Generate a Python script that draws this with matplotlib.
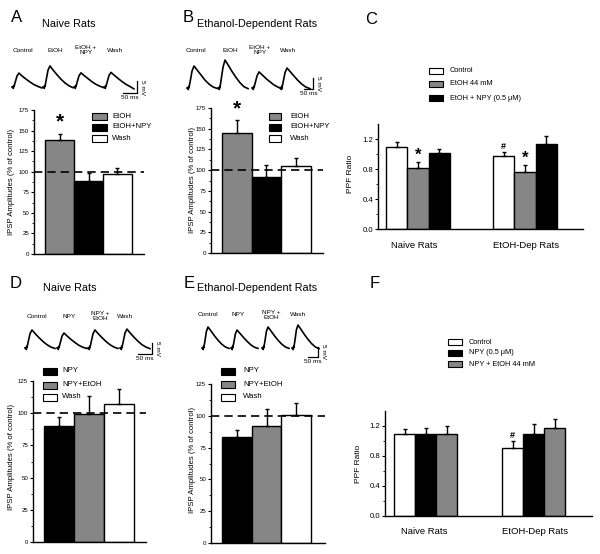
import numpy as np
import matplotlib
matplotlib.use('Agg')
import matplotlib.pyplot as plt
from matplotlib.patches import Rectangle

plt.rcParams['font.family'] = ['Liberation Sans', 'DejaVu Sans']

W, H = 600, 554
GRAY = '#868686'

# ---- IPSP amplitudes (% of control): mean and upper SEM
a_labels = ['EtOH', 'EtOH+NPY', 'Wash']
a_means = [138, 89, 97]
a_sem = [8, 10, 8]
b_means = [145, 92, 105]
b_sem = [15, 14, 10]

d_labels = ['NPY', 'NPY+EtOH', 'Wash']
d_means = [90, 99, 107]
d_sem = [7, 14, 12]
e_means = [83, 92, 101]
e_sem = [6, 13, 9]

# ---- PPF ratios (Naive, EtOH-Dep)
groups = ['Naive Rats', 'EtOH-Dep Rats']
c_labels = ['Control', 'EtOH 44 mM', 'EtOH + NPY (0.5 \u03bcM)']
c_control = [1.10, 0.97]
c_control_sem = [0.06, 0.06]
c_etoh = [0.82, 0.76]
c_etoh_sem = [0.07, 0.09]
c_npy = [1.02, 1.13]
c_npy_sem = [0.05, 0.11]

f_labels = ['Control', 'NPY (0.5 \u03bcM)', 'NPY + EtOH 44 mM']
f_control = [1.09, 0.91]
f_control_sem = [0.07, 0.09]
f_npy = [1.09, 1.10]
f_npy_sem = [0.09, 0.13]
f_npy_etoh = [1.09, 1.17]
f_npy_etoh_sem = [0.11, 0.12]

# ---- example IPSP traces (time in ms, voltage in mV from baseline)
trace_names_a = ['Control', 'EtOH', 'EtOH +\nNPY', 'Wash']
trace_names_d = ['Control', 'NPY', 'NPY +\nEtOH', 'Wash']

t_a = [0, 3.6, 4.6, 5.7, 7.1, 10.7, 17.9, 25, 35.7, 50, 64, 78.5, 93, 107]
v_a = [
    [0, 0, -0.6, 0.6, 0.2, 1.7, 4.6, 5.8, 4.6, 3.3, 2.1, 1.0, 0.2, -0.4],
    [0, 0, -0.6, 0.6, 0.2, 2.5, 7.0, 8.8, 7.1, 5.1, 3.3, 1.7, 0.5, -0.3],
    [0, 0, -0.6, 0.6, 0.2, 1.8, 4.7, 5.9, 4.8, 3.5, 2.2, 1.1, 0.3, -0.3],
    [0, 0, -0.6, 0.6, 0.2, 1.8, 4.8, 6.1, 5.0, 3.6, 2.3, 1.1, 0.2, -0.8],
]
t_b = [0, 5.6, 7.2, 8.9, 11, 17, 28, 39, 56, 78, 100, 122, 144, 167]
v_b = [
    [0, 0, -0.7, 0.7, 0.2, 2.7, 7.7, 10.0, 8.2, 5.9, 3.6, 1.8, 0.5, -0.2],
    [0, 0, -0.7, 0.7, 0.2, 3.5, 9.5, 12.7, 10.5, 7.5, 4.8, 2.4, 0.6, -0.3],
    [0, 0, -0.7, 0.7, 0.2, 2.0, 5.5, 7.3, 6.0, 4.3, 2.8, 1.4, 0.4, -0.2],
    [0, 0, -0.7, 0.7, 0.2, 2.5, 7.0, 9.1, 7.5, 5.4, 3.4, 1.7, 0.4, -0.3],
]
t_d = [0, 3.6, 4.6, 5.7, 7.1, 10.7, 17.9, 25, 35.7, 50, 64, 78.5, 93, 107]
v_d = [
    [0, 0, -0.7, 0.7, 0.2, 2.3, 6.5, 8.2, 6.6, 4.7, 3.0, 1.5, 0.4, -0.2],
    [0, 0, -0.7, 0.7, 0.2, 1.9, 5.4, 6.8, 5.5, 3.9, 2.5, 1.2, 0.3, -0.2],
    [0, 0, -0.7, 0.7, 0.2, 2.3, 6.5, 8.2, 6.6, 4.7, 3.0, 1.5, 0.4, -0.2],
    [0, 0, -0.7, 0.7, 0.2, 2.4, 6.8, 8.6, 6.9, 4.9, 3.1, 1.5, 0.4, -0.3],
]
t_e = [0, 4.5, 6, 7.5, 9, 14, 22, 30, 45, 63, 81, 99, 117, 135]
v_e = [
    [0, 0, -0.8, 0.8, 0.2, 3.0, 8.3, 10.5, 8.5, 6.0, 3.8, 1.9, 0.5, -0.2],
    [0, 0, -0.8, 0.8, 0.2, 2.6, 7.1, 9.0, 7.3, 5.2, 3.3, 1.6, 0.4, -0.2],
    [0, 0, -0.8, 0.8, 0.2, 3.0, 8.3, 10.5, 8.5, 6.0, 3.8, 1.9, 0.5, -0.2],
    [0, 0, -0.8, 0.8, 0.2, 3.3, 9.1, 11.5, 9.3, 6.6, 4.2, 2.1, 0.5, -0.3],
]

fig = plt.figure(figsize=(W / 100, H / 100), dpi=100)
fig.patch.set_facecolor('white')


def px_axes(left, top, right, bottom):
    return fig.add_axes([left / W, 1 - bottom / H, (right - left) / W, (bottom - top) / H])


def ftext(x, y, s, **kw):
    fig.text(x / W, 1 - y / H, s, **kw)


def legend_px(x, ys, w, h, colors, labels, tx, fs):
    for y, c, lab in zip(ys, colors, labels):
        fig.add_artist(Rectangle((x / W, 1 - (y + h / 2) / H), w / W, h / H, facecolor=c,
                                 edgecolor='k', lw=0.8, transform=fig.transFigure))
        ftext(tx, y, lab, ha='left', va='center', fontsize=fs)


def style_axes(ax, fs):
    for s in ['top', 'right']:
        ax.spines[s].set_visible(False)
    ax.spines['left'].set_linewidth(1)
    ax.spines['bottom'].set_linewidth(1)
    ax.tick_params(axis='x', bottom=False, labelbottom=False)
    ax.tick_params(axis='y', which='major', direction='out', length=2.5, width=0.8, labelsize=fs, pad=1)
    ax.tick_params(axis='y', which='minor', direction='out', length=1.5, width=0.6)


def trace_panel(box, px_ms, px_mv, base_px, starts_px, t, traces, corner):
    left, top, right, bottom = box
    ax = px_axes(*box)
    ax.set_xlim(0, (right - left) / px_ms)
    ax.set_ylim(-(bottom - base_px) / px_mv, (base_px - top) / px_mv)
    ax.axis('off')
    for sx, v in zip(starts_px, traces):
        ax.plot((sx - left) / px_ms + np.array(t), v, color='k', lw=1.2, solid_joinstyle='round')
    cx = (corner[0] - left) / px_ms
    cy = (base_px - corner[1]) / px_mv
    ax.plot([cx - 50, cx, cx], [cy, cy, cy + 5], color='k', lw=0.9)
    ax.annotate('50 ms', (cx - 25, cy), xytext=(0, -1.5), textcoords='offset points',
                ha='center', va='top', fontsize=4.6)
    ax.annotate('5 mV', (cx, cy + 2.5), xytext=(2, 0), textcoords='offset points',
                ha='left', va='center', rotation=270, fontsize=4.6)


def amp_panel(box, bar_px, first_px, means, sem, colors, ymax, star):
    left, top, right, bottom = box
    ax = px_axes(*box)
    x = (first_px - left) / bar_px + 0.5 + np.arange(len(means))
    ax.bar(x, means, width=1.0, color=colors, edgecolor='k', linewidth=1, zorder=2)
    ax.errorbar(x, means, yerr=[np.zeros(len(sem)), sem], fmt='none', ecolor='k',
                elinewidth=1, capsize=1.6, capthick=1, zorder=3)
    ax.axhline(100, color='k', lw=1.2, ls=(0, (5, 3)), zorder=4)
    ax.set_xlim(0, (right - left) / bar_px)
    ax.set_ylim(0, ymax)
    ax.set_yticks(np.arange(0, ymax + 1, 25))
    ax.set_yticks(np.arange(12.5, ymax, 25), minor=True)
    style_axes(ax, 4.4)
    if star:
        ax.annotate('*', (x[0], means[0] + sem[0]), xytext=(0, 1.5), textcoords='offset points',
                    ha='center', va='bottom', fontsize=15, fontweight='bold')
    return ax


def ppf_panel(box, bar_px, starts_px, series, sems, colors):
    left, top, right, bottom = box
    ax = px_axes(*box)
    pos = []
    for k in range(len(series)):
        xs = [(s - left) / bar_px + 0.5 + k for s in starts_px]
        pos.append(xs)
        ax.bar(xs, series[k], width=1.0, color=colors[k], edgecolor='k', linewidth=1, zorder=2)
        ax.errorbar(xs, series[k], yerr=[np.zeros(2), sems[k]], fmt='none', ecolor='k',
                    elinewidth=1, capsize=1.6, capthick=1, zorder=3)
    ax.set_xlim(0, (right - left) / bar_px)
    ax.set_ylim(0, 1.4)
    ax.set_yticks([0.0, 0.4, 0.8, 1.2])
    ax.set_yticklabels(['0.0', '0.4', '0.8', '1.2'])
    ax.set_yticks([0.2, 0.6, 1.0], minor=True)
    style_axes(ax, 5.6)
    return ax, pos


# ---------------- Panel A ----------------
ftext(17, 17, 'A', ha='center', va='center', fontsize=12)
ftext(69, 24, 'Naive Rats', ha='center', va='center', fontsize=7.8)
for xc, name in zip([23, 55, 86, 115], trace_names_a):
    ftext(xc, 50, name, ha='center', va='center', fontsize=4.6, linespacing=0.9)
trace_panel((10, 55, 150, 100), 0.28, 2.4, 87, [12, 43, 74, 104], t_a, v_a, (137, 93))
amp_panel((34, 110, 144, 254), 29, 45, a_means, a_sem, [GRAY, 'k', 'w'], 175, True)
legend_px(92, [116, 127, 138], 15, 7, [GRAY, 'k', 'w'], a_labels, 112, 5.6)
ftext(12, 182, 'IPSP Amplitudes (% of control)', ha='center', va='center', rotation=90, fontsize=5.6)

# ---------------- Panel B ----------------
ftext(188, 17, 'B', ha='center', va='center', fontsize=12)
ftext(257, 24, 'Ethanol-Dependent Rats', ha='center', va='center', fontsize=7.8)
for xc, name in zip([196, 230, 260, 288], trace_names_a):
    ftext(xc, 50, name, ha='center', va='center', fontsize=4.6, linespacing=0.9)
trace_panel((185, 55, 325, 100), 0.18, 2.2, 88, [187, 218, 252, 280], t_b, v_b, (313, 89))
amp_panel((211, 108, 323, 253), 29.5, 222, b_means, b_sem, [GRAY, 'k', 'w'], 175, True)
legend_px(269, [116, 127, 138], 12, 7, [GRAY, 'k', 'w'], a_labels, 290, 5.6)
ftext(192, 180, 'IPSP Amplitudes (% of control)', ha='center', va='center', rotation=90, fontsize=5.6)

# ---------------- Panel C ----------------
ftext(371, 19, 'C', ha='center', va='center', fontsize=12)
ax_c, pos_c = ppf_panel((378, 124, 583, 229), 21.3, [386, 493],
                        [c_control, c_etoh, c_npy],
                        [c_control_sem, c_etoh_sem, c_npy_sem], ['w', GRAY, 'k'])
legend_px(429, [71, 84, 98], 14, 6, ['w', GRAY, 'k'], c_labels, 450, 5.3)
ftext(350, 174, 'PPF Ratio', ha='center', va='center', rotation=90, fontsize=6)
for xc, g in zip([414, 526], groups):
    ftext(xc, 245, g, ha='center', va='center', fontsize=6.8)
for i in range(2):
    ax_c.annotate('*', (pos_c[1][i], c_etoh[i] + c_etoh_sem[i]), xytext=(0, -0.5), textcoords='offset points',
                  ha='center', va='bottom', fontsize=12, fontweight='bold')
ax_c.annotate('#', (pos_c[0][1], c_control[1] + c_control_sem[1]), xytext=(0, 0.5), textcoords='offset points',
              ha='center', va='bottom', fontsize=6.5, fontweight='bold')

# ---------------- Panel D ----------------
ftext(16, 284, 'D', ha='center', va='center', fontsize=12)
ftext(70, 288, 'Naive Rats', ha='center', va='center', fontsize=7.8)
for xc, name in zip([37, 69, 100, 125], trace_names_d):
    ftext(xc, 316, name, ha='center', va='center', fontsize=4.6, linespacing=0.9)
trace_panel((20, 320, 165, 365), 0.28, 2.2, 348, [25, 57, 88, 120], t_d, v_d, (152, 354))
amp_panel((33, 381, 146, 542), 30, 44, d_means, d_sem, ['k', GRAY, 'w'], 125, False)
legend_px(43, [371, 385, 397], 14, 7, ['k', GRAY, 'w'], d_labels, 62, 5.6)
ftext(12, 457, 'IPSP Amplitudes (% of control)', ha='center', va='center', rotation=90, fontsize=5.6)

# ---------------- Panel E ----------------
ftext(189, 284, 'E', ha='center', va='center', fontsize=12)
ftext(257, 288, 'Ethanol-Dependent Rats', ha='center', va='center', fontsize=7.8)
for xc, name in zip([208, 238, 271, 298], trace_names_d):
    ftext(xc, 315, name, ha='center', va='center', fontsize=4.6, linespacing=0.9)
trace_panel((195, 320, 335, 365), 0.2, 2.0, 348, [202, 231, 262, 292], t_e, v_e, (318, 357))
amp_panel((211, 384, 325, 543), 29.7, 222, e_means, e_sem, ['k', GRAY, 'w'], 125, False)
legend_px(221, [371, 384, 397], 14, 7, ['k', GRAY, 'w'], d_labels, 243, 5.6)
ftext(192, 460, 'IPSP Amplitudes (% of control)', ha='center', va='center', rotation=90, fontsize=5.6)

# ---------------- Panel F ----------------
ftext(375, 284, 'F', ha='center', va='center', fontsize=12)
ax_f, pos_f = ppf_panel((385, 411, 592, 516), 21, [394, 502],
                        [f_control, f_npy, f_npy_etoh],
                        [f_control_sem, f_npy_sem, f_npy_etoh_sem], ['w', 'k', GRAY])
legend_px(448, [342, 353, 364], 14, 6, ['w', 'k', GRAY], f_labels, 469, 5.3)
ftext(358, 464, 'PPF Ratio', ha='center', va='center', rotation=90, fontsize=6)
for xc, g in zip([424, 535], groups):
    ftext(xc, 531, g, ha='center', va='center', fontsize=6.8)
ax_f.annotate('#', (pos_f[0][1], f_control[1] + f_control_sem[1]), xytext=(0, 0.5), textcoords='offset points',
              ha='center', va='bottom', fontsize=6.5, fontweight='bold')

fig.savefig('out.png', dpi=100, facecolor='white')
